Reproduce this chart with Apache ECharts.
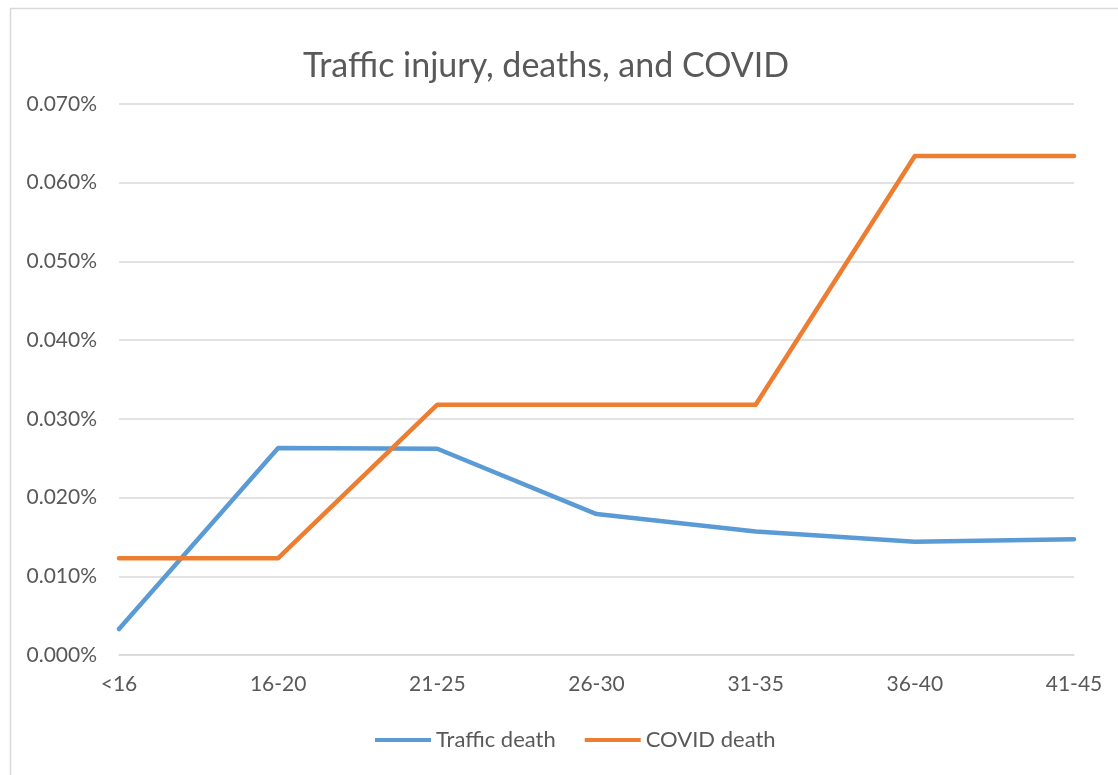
<!DOCTYPE html>
<html>
<head>
    <meta charset="utf-8">
    <script src="https://cdn.jsdelivr.net/npm/echarts@6/dist/echarts.min.js"></script>
    <style>
        html, body { margin: 0; padding: 0; background: #fff; }
        #chart { width: 1118px; height: 775px; }
    </style>
</head>
<body>
<div id="chart"></div>
<script>
    // age groups on the x axis
    var ageGroups = ['<16', '16-20', '21-25', '26-30', '31-35', '36-40', '41-45'];
    // values in percent
    var trafficDeath = [0.0033, 0.0263, 0.0262, 0.0179, 0.0157, 0.0144, 0.0147];
    var covidDeath = [0.0123, 0.0123, 0.0318, 0.0318, 0.0318, 0.0634, 0.0634];

    var chart = echarts.init(document.getElementById('chart'));
    var font = 'Lato, "Open Sans", sans-serif';

    var option = {
        backgroundColor: '#fff',
        graphic: [{
            type: 'rect',
            left: 8, top: 6,
            shape: { width: 1200, height: 900 },
            style: { fill: 'none', stroke: '#d9d9d9', lineWidth: 1.5 },
            silent: true
        }],
        title: {
            text: 'Traffic injury, deaths, and COVID',
            left: 541,
            textAlign: 'center',
            top: 44,
            textStyle: { color: '#595959', fontSize: 34, fontWeight: 'normal', fontFamily: font }
        },
        legend: {
            data: ['Traffic death', 'COVID death'],
            bottom: 19,
            left: 370,
            icon: 'rect',
            itemWidth: 56,
            itemHeight: 4,
            itemGap: 29,
            textStyle: { color: '#595959', fontSize: 22, fontFamily: font }
        },
        grid: { left: 119, right: 44, top: 104, bottom: 120 },
        xAxis: {
            type: 'category',
            data: ageGroups,
            boundaryGap: false,
            axisLine: { lineStyle: { color: '#d9d9d9', width: 1.5 } },
            axisTick: { show: false },
            axisLabel: { color: '#595959', fontSize: 21, fontFamily: font, margin: 19 }
        },
        yAxis: {
            type: 'value',
            min: 0,
            max: 0.07,
            interval: 0.01,
            axisLine: { show: false },
            axisTick: { show: false },
            splitLine: { lineStyle: { color: '#d9d9d9', width: 1.5 } },
            axisLabel: {
                color: '#595959', fontSize: 21, fontFamily: font, margin: 22,
                formatter: function (v) { return v.toFixed(3) + '%'; }
            }
        },
        series: [
            {
                name: 'Traffic death',
                type: 'line',
                data: trafficDeath,
                symbol: 'none',
                color: '#5b9bd5',
                lineStyle: { width: 4.5, join: 'round', cap: 'round' }
            },
            {
                name: 'COVID death',
                type: 'line',
                data: covidDeath,
                symbol: 'none',
                color: '#ed7d31',
                lineStyle: { width: 4.5, join: 'round', cap: 'round' }
            }
        ]
    };
    chart.setOption(option);
</script>
</body>
</html>
